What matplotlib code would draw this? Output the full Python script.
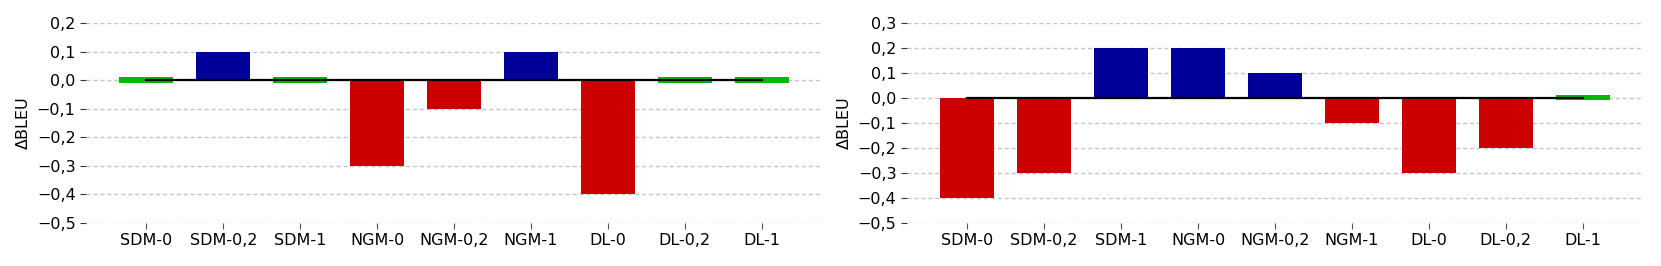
import numpy as np
import matplotlib.pyplot as plt
from matplotlib import ticker

labels = ['SDM-0', 'SDM-0,2', 'SDM-1', 'NGM-0', 'NGM-0,2', 'NGM-1', 'DL-0', 'DL-0,2', 'DL-1']
delta_left = [0.0, 0.1, 0.0, -0.3, -0.1, 0.1, -0.4, 0.0, 0.0]
delta_right = [-0.4, -0.3, 0.2, 0.2, 0.1, -0.1, -0.3, -0.2, 0.0]
ylims = [(-0.5, 0.2), (-0.5, 0.3)]

plt.rcParams['font.size'] = 11.5

def fmt(v, p):
    s = '%.1f' % v
    if s == '-0.0':
        s = '0.0'
    return s.replace('.', ',').replace('-', '\u2212')

fig = plt.figure(figsize=(16.61, 2.66), dpi=100)
ax1 = fig.add_axes([0.0518, 0.1628, 0.4431, 0.7507])
ax2 = fig.add_axes([0.546, 0.1628, 0.4432, 0.7507])

for ax, vals, yl in zip([ax1, ax2], [delta_left, delta_right], ylims):
    x = np.arange(len(labels))
    vals = np.array(vals)
    cols = ['#cc0000' if v < 0 else '#000099' if v > 0 else '#00b800' for v in vals]
    heights = np.where(vals == 0, 0.02, vals)
    bottoms = np.where(vals == 0, -0.01, 0.0)
    ax.bar(x, heights, 0.7, bottom=bottoms, color=cols, zorder=2)
    ax.plot([x[0], x[-1]], [0, 0], color='k', lw=1.6, zorder=3)
    ax.set_ylim(*yl)
    ax.set_yticks(np.arange(yl[0], yl[1] + 0.01, 0.1))
    ax.yaxis.set_major_formatter(ticker.FuncFormatter(fmt))
    ax.set_xticks(x)
    ax.set_xticklabels(labels)
    ax.grid(axis='y', ls=(0, (3, 2)), color='#c4c4c4', lw=1, zorder=0)
    ax.set_axisbelow(True)
    for s in ax.spines.values():
        s.set_visible(False)
    ax.tick_params(axis='x', length=4, color='#555555')
    ax.tick_params(axis='y', length=4, color='#333333')
    ax.set_ylabel('\u0394BLEU')

plt.savefig('out.png', dpi=100)
